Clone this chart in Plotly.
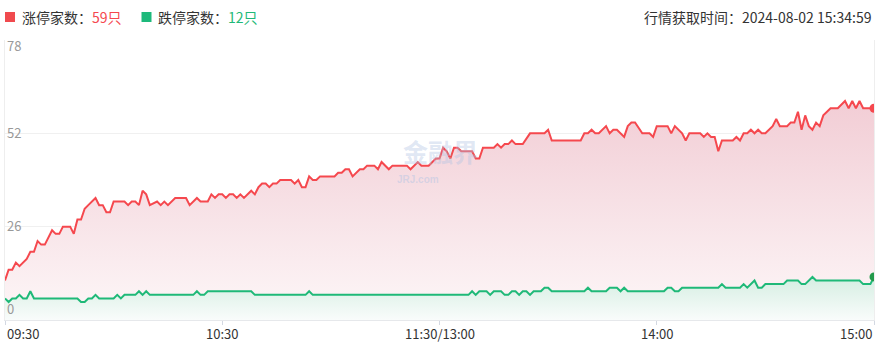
import plotly.graph_objects as go

# ---------------- data ----------------
red_min = [0, 1, 2, 3, 4, 6, 7, 8, 9, 10, 11, 13, 14, 15, 16, 18, 19, 20, 21, 22, 23, 25, 26, 27, 28, 29,
           30, 33, 34, 35, 36, 37, 38, 39, 40, 42, 43, 44, 45, 47, 50, 51, 53, 54, 56, 57, 58, 59, 60,
           61, 62, 63, 64, 65, 66, 68, 69, 70, 71, 72, 73, 74, 75, 76, 79, 80, 81, 82, 83, 84, 85, 86,
           87, 91, 92, 93, 94, 95, 96, 98, 99, 100, 102, 103, 104, 105, 106, 107, 111, 112, 114, 115,
           117, 119, 120, 121, 122, 123, 124, 125, 126, 129, 130, 131, 132, 135, 136, 137, 138, 139,
           140, 141, 143, 145, 149, 150, 151, 159, 160, 161, 162, 163, 164, 166, 167, 168, 169, 171,
           172, 173, 174, 176, 178, 179, 180, 181, 183, 184, 185, 187, 188, 189, 192, 193, 194, 195,
           196, 197, 198, 201, 202, 203, 204, 205, 206, 207, 208, 209, 210, 212, 213, 214, 216, 217,
           218, 219, 220, 221, 222, 223, 224, 225, 226, 228, 230, 232, 233, 234, 235, 236, 237, 240]
red_val = [11, 14, 14, 16, 15, 17, 19, 19, 22, 21, 21, 25, 24, 24, 26, 26, 24, 28, 28, 31, 32, 34, 32, 32, 30, 30,
           33, 33, 32, 33, 33, 32, 36, 35, 32, 33, 32, 33, 32, 34, 34, 32, 34, 33, 33, 35, 34, 35, 35,
           34, 35, 35, 34, 35, 34, 36, 35, 37, 38, 38, 37, 38, 38, 39, 39, 38, 39, 37, 37, 40, 39, 39,
           40, 40, 41, 41, 42, 42, 40, 42, 42, 43, 43, 42, 44, 43, 42, 43, 43, 42, 44, 43,
           43, 45, 45, 48, 47, 45, 48, 48, 47, 47, 45, 45, 48, 48, 49, 48, 49, 49,
           50, 49, 49, 52, 52, 53, 50, 50, 52, 52, 53, 52, 52, 54, 52, 53, 53, 51,
           54, 55, 55, 52, 52, 51, 54, 54, 54, 52, 54, 52, 50, 52, 52, 51, 52, 51,
           51, 47, 50, 50, 51, 50, 52, 52, 53, 52, 53, 52, 52, 54, 56, 54, 54, 55,
           55, 58, 53, 57, 54, 53, 55, 54, 57, 59, 59, 61, 59, 61, 59, 61, 59, 59]

green_min = [0, 1, 2, 3, 4, 5, 6, 7, 8, 20, 21, 22, 23, 24, 25, 26, 30, 31, 32, 33, 36, 37, 38, 39, 40,
             52, 53, 54, 55, 56, 68, 69, 83, 84, 85, 128, 129, 130, 131, 133, 134, 135, 137, 138, 139,
             140, 141, 142, 143, 144, 145, 146, 148, 149, 150, 151, 160, 161, 162, 166, 167, 169, 170,
             171, 172, 182, 183, 184, 185, 186, 187, 197, 198, 199, 203, 204, 205, 207, 208, 209, 210,
             215, 216, 219, 220, 221, 223, 224, 236, 237, 239, 240]
green_val = [6, 5, 6, 6, 7, 6, 6, 8, 6, 6, 5, 5, 6, 6, 7, 6, 6, 7, 6, 7, 7, 8, 7, 8, 7,
             7, 8, 7, 7, 8, 8, 7, 7, 8, 7, 7, 8, 7, 8, 8, 7, 8, 8, 7, 7,
             8, 8, 7, 8, 8, 7, 8, 8, 9, 9, 8, 8, 9, 8, 8, 9, 9, 8,
             9, 8, 8, 9, 9, 8, 8, 9, 9, 10, 9, 9, 10, 9, 11, 9, 9, 10,
             10, 11, 11, 10, 10, 12, 11, 11, 10, 10, 12]

x_tick_vals = [0, 60, 120, 180, 240]
x_tick_text = ["09:30", "10:30", "11:30/13:00", "14:00", "15:00"]
y_tick_vals = [0, 26, 52, 78]

red_name = "涨停家数"
green_name = "跌停家数"
fetch_time = "行情获取时间：2024-08-02 15:34:59"

RED = "#f5484e"
GREEN = "#1fb978"
FONT = "Noto Sans CJK SC, Noto Sans, sans-serif"

W, H = 883, 354
ML, MR, MT, MB = 5, 9, 40, 34
PW, PH = W - ML - MR, H - MT - MB


def px_x(p):
    return (p - ML) / PW


def px_y(p):
    return (H - MB - p) / PH


fig = go.Figure()

fig.add_trace(go.Scatter(
    x=red_min, y=red_val, mode="lines",
    line=dict(color=RED, width=2),
    fill="tozeroy",
    fillgradient=dict(type="vertical", start=0, stop=max(red_val),
                      colorscale=[[0, "#fdf7f8"], [1, "#f2cdd5"]]),
    hoverinfo="skip",
))
fig.add_trace(go.Scatter(
    x=green_min, y=green_val, mode="lines",
    line=dict(color=GREEN, width=2),
    fill="tozeroy",
    fillgradient=dict(type="vertical", start=0, stop=max(green_val),
                      colorscale=[[0, "#f9fcfb"], [1, "#d5eee2"]]),
    hoverinfo="skip",
))
fig.add_trace(go.Scatter(
    x=[red_min[-1]], y=[red_val[-1]], mode="markers",
    marker=dict(color=RED, size=9), hoverinfo="skip"))
fig.add_trace(go.Scatter(
    x=[green_min[-1]], y=[green_val[-1]], mode="markers",
    marker=dict(color="#239a4b", size=9), hoverinfo="skip"))

annotations = []
# x tick labels
for i, (v, t) in enumerate(zip(x_tick_vals, x_tick_text)):
    anchor = "left" if i == 0 else ("right" if i == len(x_tick_vals) - 1 else "center")
    annotations.append(dict(x=v, xref="x", y=px_y(333.5), yref="paper", text=t,
                            showarrow=False, xanchor=anchor, yanchor="middle",
                            font=dict(family=FONT, size=13, color="#333333")))
# y tick labels (inside, left)
for i, v in enumerate(y_tick_vals):
    ya = "bottom" if i == 0 else ("top" if i == len(y_tick_vals) - 1 else "middle")
    ys = 6 if i == len(y_tick_vals) - 1 else (1 if i > 0 else 0)
    annotations.append(dict(x=0, xref="paper", y=v, yref="y", text=str(v), yshift=ys,
                            showarrow=False, xanchor="left", yanchor=ya,
                            font=dict(family=FONT, size=13, color="#999999")))
# header
annotations.append(dict(x=px_x(20), xref="paper", y=px_y(17), yref="paper",
                        text=f"{red_name}：<span style='color:{RED}'>{red_val[-1]}只</span>",
                        showarrow=False, xanchor="left", yanchor="middle",
                        font=dict(family=FONT, size=14, color="#333333")))
annotations.append(dict(x=px_x(156), xref="paper", y=px_y(17), yref="paper",
                        text=f"{green_name}：<span style='color:{GREEN}'>{green_val[-1]}只</span>",
                        showarrow=False, xanchor="left", yanchor="middle",
                        font=dict(family=FONT, size=14, color="#333333")))
annotations.append(dict(x=1, xref="paper", y=px_y(17), yref="paper", text=fetch_time,
                        showarrow=False, xanchor="right", yanchor="middle",
                        font=dict(family=FONT, size=14, color="#333333")))
# watermark
annotations.append(dict(x=px_x(440), xref="paper", y=px_y(151), yref="paper", text="<b>金融界</b>",
                        showarrow=False, xanchor="center", yanchor="middle",
                        font=dict(family=FONT, size=25, color="rgba(175,195,228,0.4)")))
annotations.append(dict(x=px_x(418), xref="paper", y=px_y(179), yref="paper", text="<b>JRJ.com</b>",
                        showarrow=False, xanchor="center", yanchor="middle",
                        font=dict(family="Liberation Sans", size=10, color="rgba(175,195,228,0.45)")))

shapes = [
    dict(type="rect", xref="paper", yref="paper", x0=px_x(5), x1=px_x(15), y0=px_y(22), y1=px_y(12),
         fillcolor="#f04a4e", line=dict(width=0)),
    dict(type="rect", xref="paper", yref="paper", x0=px_x(141.5), x1=px_x(151.5), y0=px_y(22), y1=px_y(12),
         fillcolor="#1db97b", line=dict(width=0)),
]

fig.update_layout(
    width=W, height=H,
    margin=dict(l=ML, r=MR, t=MT, b=MB, pad=0),
    paper_bgcolor="white", plot_bgcolor="white",
    showlegend=False,
    annotations=annotations,
    shapes=shapes,
    xaxis=dict(range=[0, 240], tickvals=x_tick_vals, showticklabels=False, showgrid=False,
               zeroline=False, showline=True, linecolor="#e6e8eb", linewidth=1,
               ticks="outside", ticklen=4, tickcolor="#d3d8e2", fixedrange=True),
    yaxis=dict(range=[0, 78], tickvals=y_tick_vals, showticklabels=False, showgrid=True,
               gridcolor="#f0f0f0", zeroline=False, showline=True, linecolor="#eeeeee",
               mirror=True, ticks="", fixedrange=True),
)

fig.write_html("out.html", config={"displayModeBar": False})
